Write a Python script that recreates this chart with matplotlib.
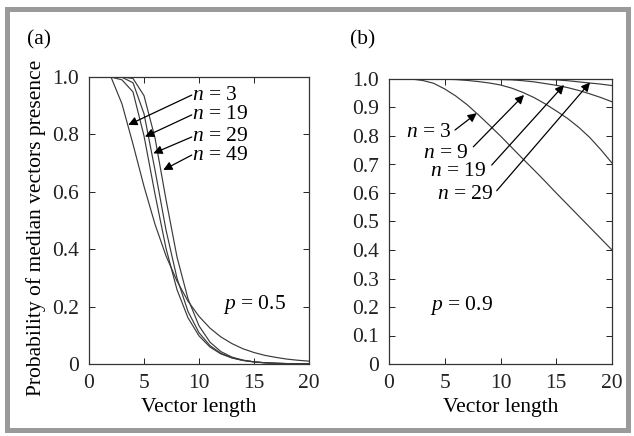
import matplotlib
matplotlib.use("Agg")
import matplotlib.pyplot as plt
from matplotlib.patches import Rectangle

plt.rcParams['font.family'] = ['Liberation Serif', 'DejaVu Serif']
plt.rcParams['mathtext.fontset'] = 'custom'
plt.rcParams['mathtext.it'] = 'Liberation Serif:italic'
plt.rcParams['mathtext.rm'] = 'Liberation Serif'

# vector length 1..20
lengths = list(range(1, 21))

# panel (a), p = 0.5
a_n3 = [1.0, 1.0, 0.906, 0.766, 0.619, 0.487, 0.377, 0.289, 0.219, 0.166,
        0.125, 0.094, 0.071, 0.053, 0.040, 0.030, 0.023, 0.017, 0.013, 0.010]
a_n19 = [1.0, 1.0, 0.99, 0.948, 0.795, 0.592, 0.403, 0.259, 0.161, 0.098,
         0.059, 0.035, 0.021, 0.0125, 0.0074, 0.0044, 0.0026, 0.0015, 0.0009, 0.0005]
a_n29 = [1.0, 1.0, 0.999, 0.98, 0.872, 0.676, 0.467, 0.299, 0.183, 0.109,
         0.064, 0.037, 0.0215, 0.0124, 0.0072, 0.0041, 0.0024, 0.0014, 0.0008, 0.0005]
a_n49 = [1.0, 1.0, 1.0, 0.995, 0.935, 0.788, 0.573, 0.373, 0.227, 0.133,
         0.076, 0.043, 0.024, 0.0136, 0.0076, 0.0042, 0.0024, 0.0013, 0.0007, 0.0004]

# panel (b), p = 0.9
b_n3 = [1.0, 1.0, 0.995, 0.985, 0.965, 0.94, 0.91, 0.875, 0.838, 0.80,
        0.76, 0.72, 0.681, 0.641, 0.60, 0.56, 0.52, 0.48, 0.44, 0.40]
b_n9 = [1.0, 1.0, 1.0, 1.0, 0.999, 0.998, 0.995, 0.991, 0.986, 0.979,
        0.968, 0.953, 0.935, 0.913, 0.888, 0.862, 0.831, 0.795, 0.752, 0.705]
b_n19 = [1.0, 1.0, 1.0, 1.0, 1.0, 1.0, 1.0, 1.0, 0.999, 0.998,
         0.997, 0.994, 0.99, 0.984, 0.978, 0.970, 0.960, 0.948, 0.935, 0.92]
b_n29 = [1.0, 1.0, 1.0, 1.0, 1.0, 1.0, 1.0, 1.0, 1.0, 1.0,
         1.0, 1.0, 1.0, 0.999, 0.997, 0.994, 0.99, 0.986, 0.982, 0.977]

a_labels = ['3', '19', '29', '49']
b_labels = ['3', '9', '19', '29']

fs = 15.5
fig = plt.figure(figsize=(6.34, 4.36), dpi=100)
W, H = 634, 436

# gray frame round the figure
fig.patches.append(Rectangle((6.5 / W, 1 - 429.5 / H), 621.5 / W, 420 / H,
                             transform=fig.transFigure, fill=False,
                             edgecolor='#9a9a9a', lw=3.6))

ax1 = fig.add_axes([89 / W, 1 - 364 / H, 220 / W, 287 / H])
ax2 = fig.add_axes([389 / W, 1 - 364 / H, 223 / W, 285 / H])

lc = '#3a3a3a'
for ys in (a_n3, a_n19, a_n29, a_n49):
    ax1.plot(lengths, ys, color=lc, lw=0.85)
for ys in (b_n3, b_n9, b_n19, b_n29):
    ax2.plot(lengths, ys, color=lc, lw=0.85)

for ax in (ax1, ax2):
    ax.set_xlim(0, 20)
    ax.set_ylim(0, 1)
    ax.set_xticks([0, 5, 10, 15, 20])
    ax.tick_params(direction='in', top=True, right=True, length=4, width=0.7,
                   labelsize=fs, pad=7, colors='#222222')
    for s in ax.spines.values():
        s.set_linewidth(0.9)
        s.set_color('#333333')
    ax.set_xlabel('Vector length', fontsize=fs, labelpad=4)

ax1.set_yticks([0, 0.2, 0.4, 0.6, 0.8, 1.0])
ax1.set_yticklabels(['0', '0.2', '0.4', '0.6', '0.8', '1.0'])
ax2.set_yticks([i / 10 for i in range(11)])
ax2.set_yticklabels(['0'] + ['%.1f' % (i / 10) for i in range(1, 11)])

fig.text(36 / W, 1 - 228 / H, 'Probability of median vectors presence',
         rotation=90, ha='center', va='center', fontsize=fs)
fig.text(27 / W, 1 - 40 / H, '(a)', ha='left', va='center', fontsize=fs)
fig.text(350 / W, 1 - 40 / H, '(b)', ha='left', va='center', fontsize=fs)

arrow = dict(arrowstyle='-|>', color='k', lw=0.9, mutation_scale=13,
             shrinkA=0, shrinkB=0)

# panel (a) labels and arrows
a_text_y = [0.937, 0.868, 0.791, 0.728]
a_tips = [(3.57, 0.833), (5.09, 0.792), (5.85, 0.734), (6.75, 0.676)]
for lab, ty, tip in zip(a_labels, a_text_y, a_tips):
    ax1.annotate('', xy=tip, xytext=(9.34, ty), arrowprops=arrow)
    ax1.text(9.4, ty, '$n$ = ' + lab, ha='left', va='center', fontsize=fs)
ax1.text(12.2, 0.206, '$p$ = 0.5', ha='left', va='center', fontsize=fs)

# panel (b) labels and arrows
b_text = [(5.62, 0.811), (7.09, 0.737), (8.76, 0.674), (9.33, 0.596)]
b_tails = [(5.92, 0.821), (7.56, 0.762), (9.21, 0.698), (9.66, 0.608)]
b_tips = [(7.87, 0.880), (12.11, 0.944), (15.70, 0.979), (18.03, 0.988)]
for lab, tx, tail, tip in zip(b_labels, b_text, b_tails, b_tips):
    ax2.annotate('', xy=tip, xytext=tail, arrowprops=arrow)
    ax2.text(tx[0], tx[1], '$n$ = ' + lab, ha='right', va='center', fontsize=fs)
ax2.text(3.68, 0.207, '$p$ = 0.9', ha='left', va='center', fontsize=fs)

fig.savefig('out.png', dpi=100)
